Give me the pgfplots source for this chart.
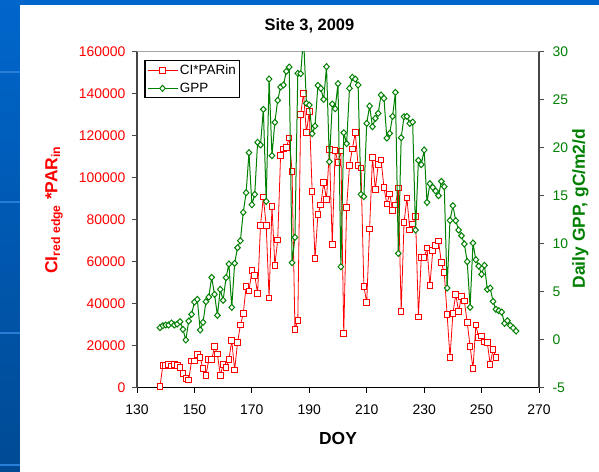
\documentclass[border=0pt]{standalone}
\usepackage{pgfplots}
\pgfplotsset{compat=1.18}
\usepackage{pgfplotstable}
\usepackage{fontspec}
\setmainfont{Liberation Sans}
\definecolor{cired}{RGB}{255,0,0}
\definecolor{gppgreen}{RGB}{0,128,0}
\definecolor{slidetop}{RGB}{0,102,204}
\definecolor{slidebot}{RGB}{0,74,148}
\definecolor{stripe}{RGB}{40,125,215}
\definecolor{axgray}{RGB}{70,70,70}
\definecolor{topgray}{RGB}{165,165,165}

\pgfplotstableread{
doy ci
138 500
139 10600
140 10600
141 11100
142 10300
143 11100
144 10600
145 9500
146 6800
147 4300
148 3700
149 12700
150 12700
151 15900
152 14400
153 9000
154 5900
155 13300
156 13300
157 19500
158 16000
159 5900
160 11100
161 9500
162 13300
163 22500
164 8400
165 21400
166 29800
167 35200
168 48300
169 46000
170 55900
171 53500
172 44900
173 77100
174 90800
175 77100
176 42700
177 86300
178 58300
179 70300
180 110500
181 113700
182 114400
183 118900
184 103000
185 27800
186 31900
187 130200
188 140200
189 121400
190 131600
191 93300
192 61600
193 82500
194 87000
195 97600
196 89700
197 113300
198 68300
199 113000
200 107300
201 112700
202 25700
203 85900
204 105700
205 113700
206 121400
207 105900
208 104600
209 48300
210 40600
211 75600
212 109700
213 94400
214 106200
215 108400
216 95400
217 87500
218 92200
219 84300
220 87000
221 95100
222 36300
223 78700
224 90300
225 75100
226 77900
227 81600
228 33700
229 61900
230 61900
231 66500
232 48600
233 65200
234 67600
235 69800
236 59500
237 54800
238 34800
239 14300
240 35200
241 44400
242 36300
243 43500
244 41300
245 31000
246 19700
247 9000
248 29800
249 23800
250 24600
251 21700
252 21400
253 11100
254 18300
255 14400
}\citable

\pgfplotstableread{
doy gpp
138 1.25
139 1.46
140 1.53
141 1.53
142 1.74
143 1.53
144 1.63
145 1.88
146 1.08
147 -0.03
148 1.94
149 2.64
150 3.92
151 4.20
152 1.01
153 1.81
154 3.96
155 4.44
156 6.49
157 4.72
158 2.53
159 5.24
160 4.10
161 6.46
162 7.88
163 3.37
164 7.95
165 9.58
166 10.31
167 13.26
168 15.31
169 19.48
170 14.06
171 15.14
172 20.56
173 20.28
174 23.99
175 14.41
176 27.15
177 19.17
178 22.64
179 24.93
180 26.32
181 26.53
182 27.95
183 28.40
184 8.02
185 10.66
186 27.74
187 27.71
188 31.5
189 24.62
190 24.44
191 21.46
192 22.26
193 26.49
194 26.18
195 25.03
196 28.44
197 18.54
198 24.55
199 24.06
200 26.67
201 7.60
202 21.56
203 20.42
204 26.18
205 27.33
206 27.15
207 26.53
208 15.14
209 14.90
210 22.53
211 24.34
212 22.19
213 23.06
214 23.58
215 25.49
216 25.14
217 21.00
218 21.49
219 23.26
220 25.76
221 8.99
222 21.04
223 23.23
224 23.26
225 22.53
226 22.67
227 11.42
228 18.68
229 18.23
230 19.76
231 14.31
232 16.25
233 15.87
234 15.49
235 15.00
236 16.49
237 15.94
238 5.38
239 12.43
240 13.96
241 12.40
242 11.42
243 10.83
244 9.97
245 8.13
246 3.37
247 10.07
248 8.33
249 7.67
250 6.81
251 7.74
252 5.24
253 5.38
254 3.99
255 3.16
256 3.02
257 2.88
258 1.70
259 1.98
260 1.49
261 1.22
262 0.90
}\gpptable

\pgfplotsset{
  myax/.style={
    scale only axis, width=402bp, height=336bp,
    at={(137bp,84.3bp)}, anchor=south west,
    xmin=130, xmax=270,
    tick align=outside,
    major tick length=5bp,
    /pgf/number format/assume math mode=true,
    tick label style={font=\fontsize{14}{16}\selectfont},
  },
  redstyle/.style={color=cired, line width=0.8bp, mark=square*, mark size=2.8bp,
    mark options={fill=white, line width=1bp, solid}},
  greenstyle/.style={color=gppgreen, line width=1bp, mark=diamond*, mark size=3bp,
    mark options={fill=white, line width=1bp, solid, xscale=1.25}},
}

\begin{document}
\begin{tikzpicture}[x=1bp,y=1bp]
\useasboundingbox (0,0) rectangle (599,472);
\shade[top color=slidetop, bottom color=slidebot] (0,0) rectangle (599,472);
\fill[white] (20,0) rectangle (599,467);
\foreach \yy in {399,269,138,6} {\fill[stripe] (0,\yy) rectangle (20,\yy+2);}

\begin{axis}[myax,
  axis x line*=bottom, axis y line*=left,
  ymin=0, ymax=160000, ytick={0,20000,...,160000},
  xtick={130,150,...,270},
  scaled y ticks=false,
  yticklabel style={color=cired, xshift=-3bp, /pgf/number format/fixed, /pgf/number format/1000 sep={}},
  xticklabel style={yshift=-9bp},
  x axis line style={black, line width=1.2bp},
  y axis line style={axgray, line width=1.8bp},
  xtick style={black, line width=1bp},
  ytick style={axgray, line width=1bp},
  xlabel={DOY},
  every axis x label/.style={at={(axis description cs:0.5,-0.1705)}, anchor=base,
    font=\fontsize{17.5}{20}\bfseries\selectfont},
  ylabel={CI\textsubscript{red edge} *PAR\textsubscript{in}},
  every axis y label/.style={at={(axis description cs:-0.2065,0.529)}, anchor=center,
    rotate=90, color=cired, font=\fontsize{17.5}{20}\bfseries\selectfont},
  title={Site 3, 2009},
  every axis title/.style={at={(axis description cs:0.429,1.0625)}, anchor=base,
    font=\fontsize{16.5}{19}\bfseries\selectfont},
]
\draw[topgray, line width=1.5bp] (rel axis cs:0,1) -- (rel axis cs:1,1);
\addplot[redstyle] table[x=doy, y=ci] {\citable};
\end{axis}

\begin{axis}[myax,
  axis y line*=right, axis x line=none,
  ymin=-5, ymax=30, ytick={-5,0,...,30},
  yticklabel style={color=gppgreen, xshift=5bp},
  y axis line style={axgray, line width=1.8bp},
  ytick style={axgray, line width=1bp},
  ylabel={Daily GPP, gC/m2/d},
  every axis y label/.style={at={(axis description cs:1.1032,0.533)}, anchor=center,
    rotate=90, color=gppgreen, font=\fontsize{17.5}{20}\bfseries\selectfont},
  legend style={at={(0.0184,0.975)}, anchor=north west, draw=black, line width=1.2bp,
    font=\fontsize{13.5}{16}\selectfont, inner sep=2bp, row sep=3bp,
    /tikz/every even column/.append style={column sep=2bp}},
  legend image code/.code={\draw[mark repeat=2, mark phase=2, #1]
    plot coordinates {(0bp,0bp) (15bp,0bp) (30bp,0bp)};},
  legend cell align=left,
]
\addlegendimage{redstyle}
\addlegendentry{CI*PARin}
\addplot[greenstyle] table[x=doy, y=gpp] {\gpptable};
\addlegendentry{GPP}
\end{axis}
\end{tikzpicture}
\end{document}
